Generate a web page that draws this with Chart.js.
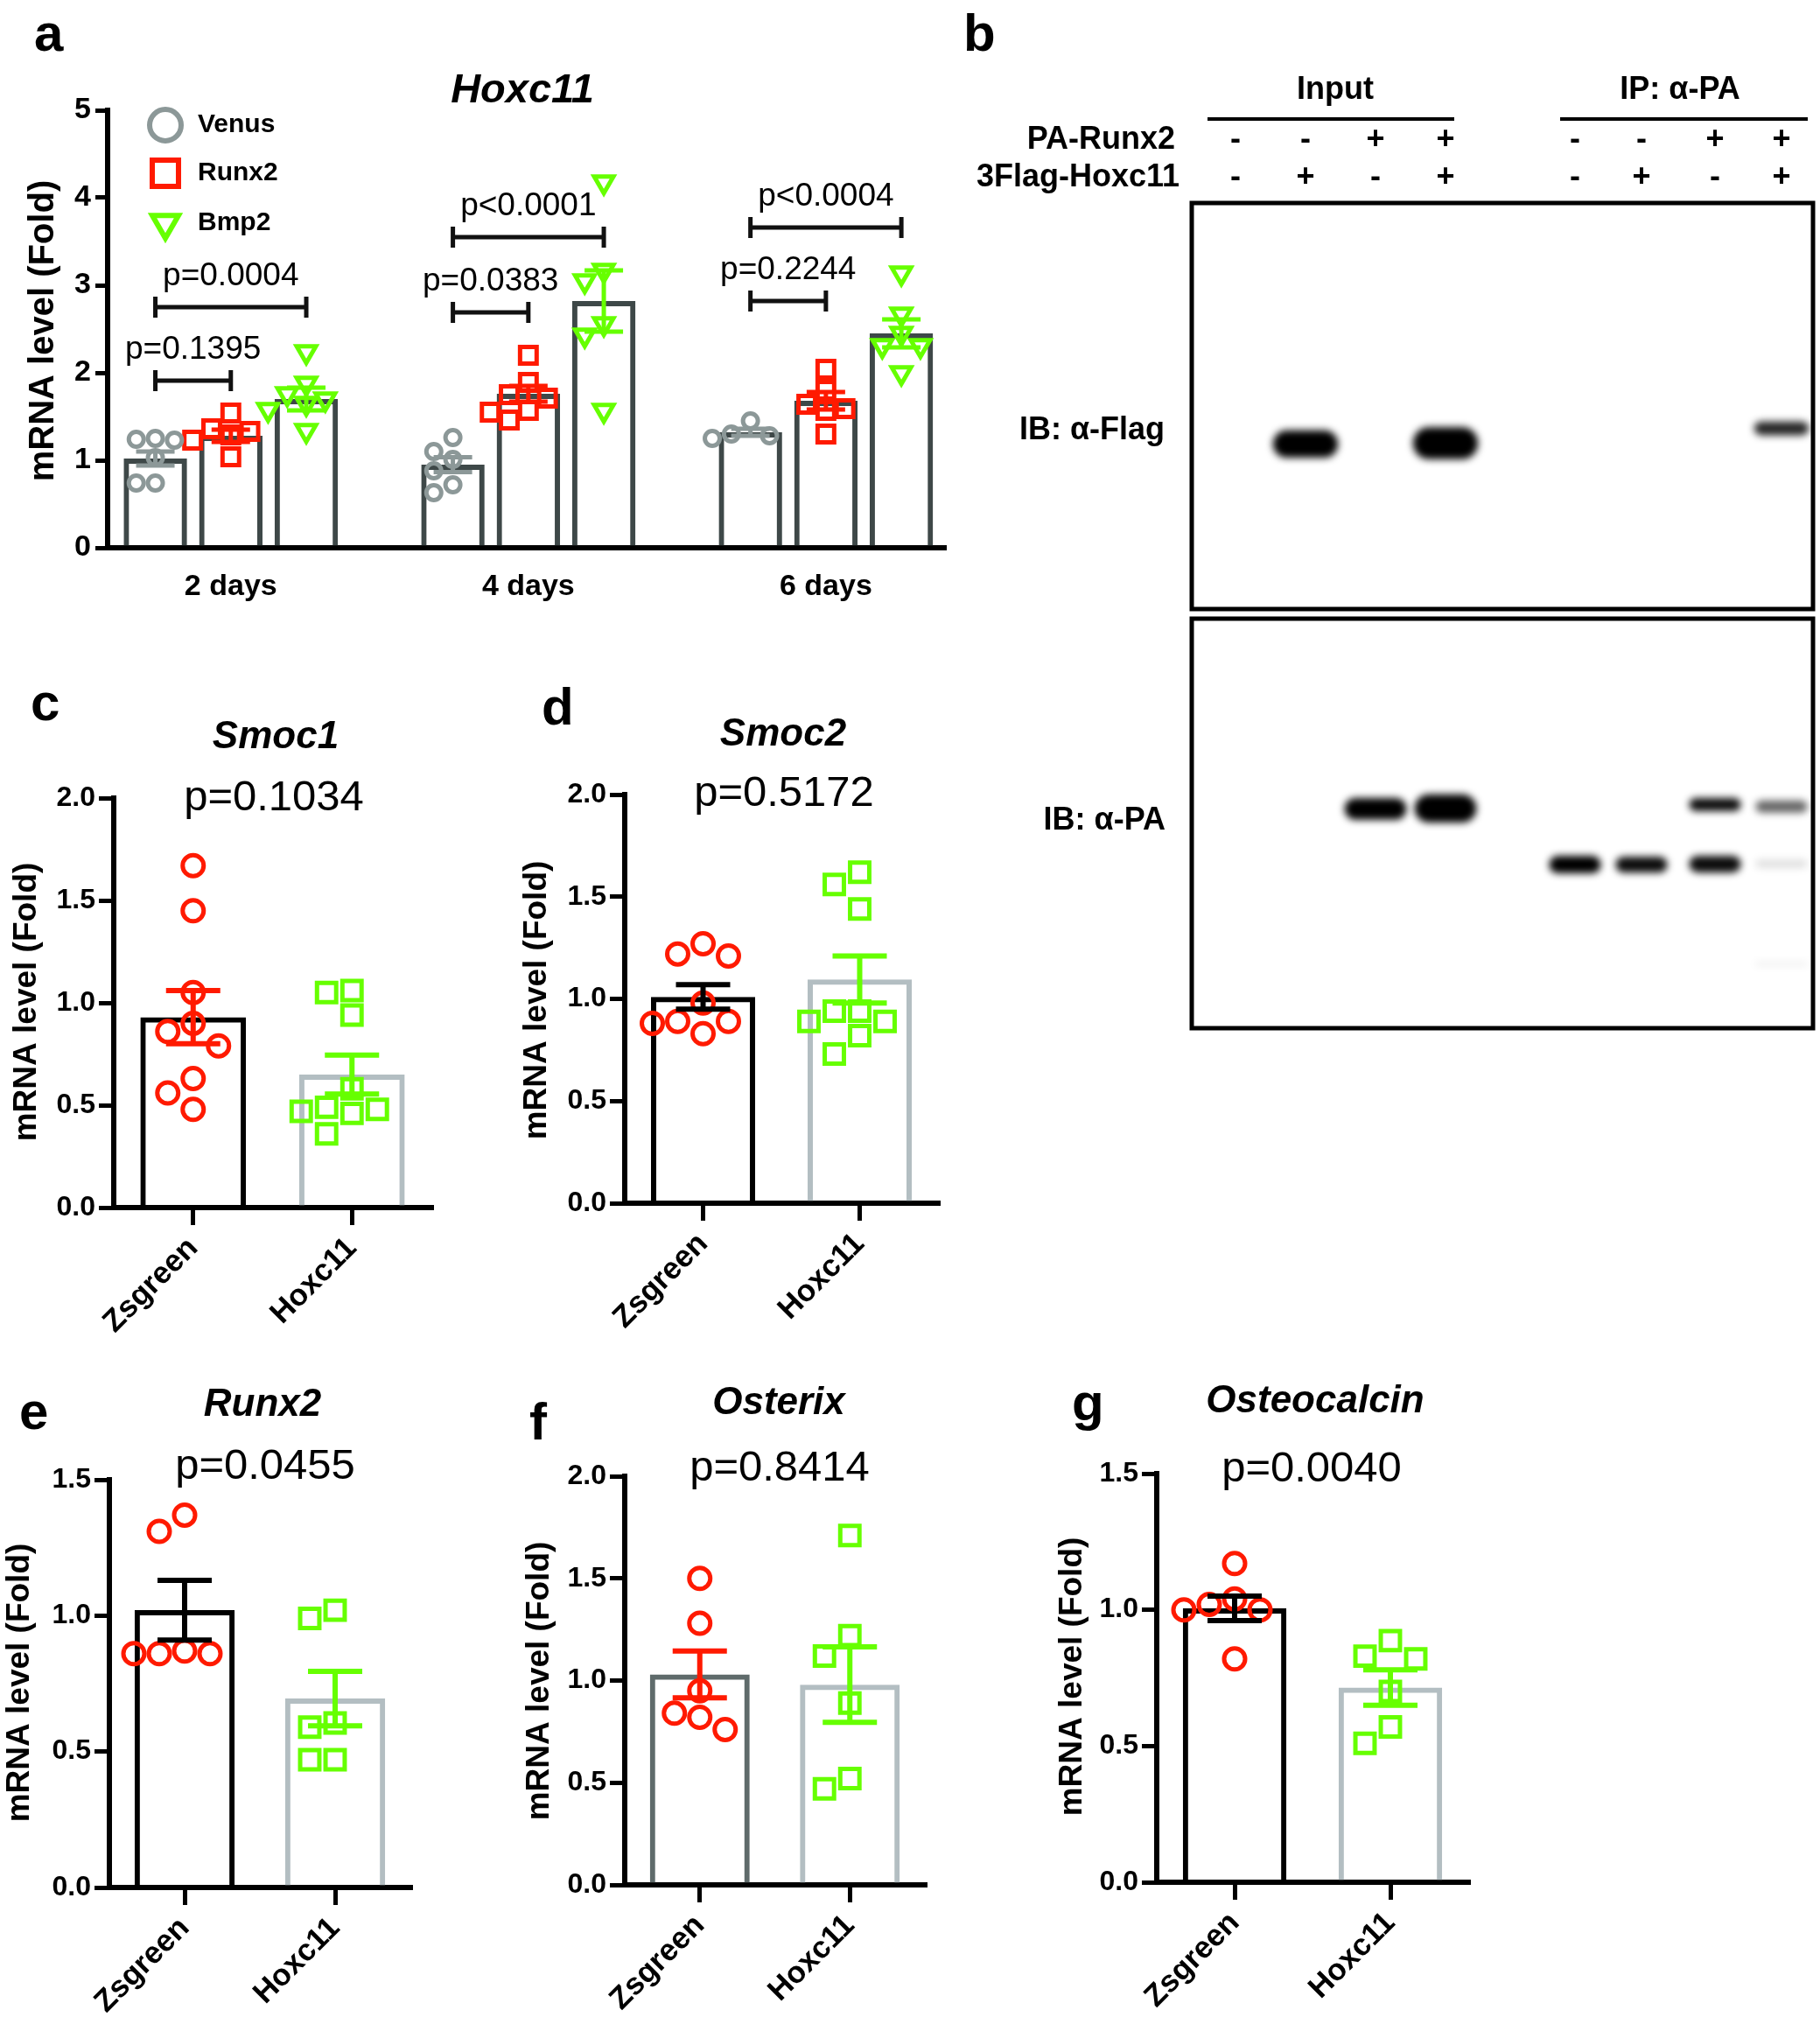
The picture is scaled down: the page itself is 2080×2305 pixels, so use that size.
<!DOCTYPE html>
<html>
<head>
<meta charset="utf-8">
<script src="https://cdn.jsdelivr.net/npm/chart.js@4.4.1/dist/chart.umd.min.js"></script>
<style>
  body { margin: 0; background: #fff; width: 2080px; height: 2305px; position: relative; overflow: hidden; }
  canvas { position: absolute; }
</style>
</head>
<body>
<script>
// ---- panel a: Hoxc11 time course ----
const days = ['2 days', '4 days', '6 days'];
const hoxSeries = ['Venus', 'Runx2', 'Bmp2'];
const venusMean = [1.02, 0.95, 1.32];
const venusSem = [0.08, 0.085, 0.04];
const runx2Mean = [1.28, 1.76, 1.68];
const runx2Sem = [0.07, 0.09, 0.10];
const bmp2Mean = [1.70, 2.82, 2.45];
const bmp2Sem = [0.13, 0.35, 0.16];
const venusPts = [[1.24, 1.25, 1.23, 1.03, 0.74, 0.74], [1.26, 1.10, 1.01, 0.88, 0.72, 0.63], [1.45, 1.30, 1.25, 1.28]];
const runx2Pts = [[1.54, 1.33, 1.36, 1.29, 1.23, 1.04], [2.20, 1.89, 1.71, 1.75, 1.57, 1.55, 1.46], [2.04, 1.80, 1.64, 1.59, 1.57, 1.30]];
const bmp2Pts = [[2.24, 1.88, 1.76, 1.70, 1.65, 1.58, 1.34], [4.18, 3.17, 3.05, 2.56, 2.43, 1.57], [3.14, 2.67, 2.45, 2.31, 2.31, 2.00]];
const bracketDay = [0, 0, 1, 1, 2, 2];
const bracketTo = [1, 2, 1, 2, 1, 2];
const bracketY = [1.91, 2.75, 2.69, 3.55, 2.82, 3.66];
const bracketText = ['p=0.1395', 'p=0.0004', 'p=0.0383', 'p<0.0001', 'p=0.2244', 'p<0.0004'];

// ---- panel b: co-IP blot ----
const lanePos = [1, 2, 3, 4, 5.85, 6.8, 7.85, 8.8];
const paRunx2 = ['-', '-', '+', '+', '-', '-', '+', '+'];
const flagHoxc11 = ['-', '+', '-', '+', '-', '+', '-', '+'];
const flagBandLane = [1, 3, 7];
const flagBandY = [[56.0, 62.7], [55.2, 63.1], [53.8, 57.2]];
const flagBandLevel = [1, 1, 0.85];
const paBandLane = [2, 3, 4, 5, 6, 6, 7, 7, 7];
const paBandY = [[43.8, 49.1], [42.9, 49.8], [57.9, 62.2], [58.1, 62.0], [43.8, 47.0], [57.9, 62.0], [44.4, 47.4], [58.8, 60.9], [84.0, 84.6]];
const paBandLevel = [1, 1, 1, 0.95, 0.95, 0.95, 0.6, 0.12, 0.1];

// ---- panels c-g: Zsgreen vs Hoxc11 ----
const groups = ['Zsgreen', 'Hoxc11'];
const smoc1Zs = [1.67, 1.45, 1.05, 0.90, 0.86, 0.79, 0.63, 0.56, 0.48];
const smoc1Hox = [1.06, 1.05, 0.94, 0.58, 0.49, 0.46, 0.47, 0.48, 0.36];
const smoc1Mean = [0.93, 0.65];
const smoc1Sem = [0.13, 0.095];
const smoc2Zs = [1.27, 1.22, 1.21, 0.98, 0.89, 0.89, 0.88, 0.83];
const smoc2Hox = [1.62, 1.56, 1.44, 0.94, 0.94, 0.89, 0.89, 0.82, 0.73];
const smoc2Mean = [1.01, 1.095];
const smoc2Sem = [0.06, 0.115];
const runx2Zs = [1.37, 1.31, 0.87, 0.86, 0.86, 0.86];
const runx2Hox = [1.02, 0.99, 0.605, 0.59, 0.47, 0.47];
const runx2GMean = [1.02, 0.695];
const runx2GSem = [0.11, 0.10];
const osxZs = [1.50, 1.28, 0.95, 0.84, 0.82, 0.76];
const osxHox = [1.71, 1.22, 1.12, 0.89, 0.52, 0.47];
const osxMean = [1.03, 0.98];
const osxSem = [0.115, 0.185];
const ocnZs = [1.17, 1.04, 1.02, 1.00, 1.00, 0.82];
const ocnHox = [0.887, 0.83, 0.82, 0.70, 0.57, 0.51];
const ocnMean = [1.005, 0.715];
const ocnSem = [0.045, 0.065];

const FONT = "'Liberation Sans', Arial, Helvetica, sans-serif";
const RED = '#ff1a00';
const GREEN = '#66ff00';
const GRAY_PT = '#8c9898';
const DARK_BAR = '#3e4848';
const LIGHT_BAR = '#b3bec2';
const CLEAR = 'rgba(0,0,0,0)';

Chart.defaults.font.family = FONT;
Chart.defaults.color = '#000';

function font(style, size) {
    return style + ' ' + size + 'px ' + FONT;
}

function makeCanvas(box) {
    const c = document.createElement('canvas');
    c.width = box.w;
    c.height = box.h;
    c.style.left = box.x + 'px';
    c.style.top = box.y + 'px';
    c.style.width = box.w + 'px';
    c.style.height = box.h + 'px';
    document.body.appendChild(c);
    return c;
}

// texts are given in page coordinates
function drawTexts(chart, items, origin) {
    const ctx = chart.ctx;
    items.forEach(function (it) {
        ctx.save();
        ctx.font = it.font;
        ctx.fillStyle = it.color || '#000';
        ctx.textAlign = it.align || 'center';
        ctx.textBaseline = it.base || 'alphabetic';
        ctx.translate(it.x - origin.x, it.y - origin.y);
        if (it.rot) ctx.rotate(it.rot * Math.PI / 180);
        ctx.fillText(it.t, 0, 0);
        ctx.restore();
    });
}

function errBar(ctx, x, yTop, yBot, cap, color, lw) {
    ctx.save();
    ctx.strokeStyle = color;
    ctx.lineWidth = lw;
    ctx.beginPath();
    ctx.moveTo(x, yTop);
    ctx.lineTo(x, yBot);
    ctx.moveTo(x - cap / 2, yTop);
    ctx.lineTo(x + cap / 2, yTop);
    ctx.moveTo(x - cap / 2, yBot);
    ctx.lineTo(x + cap / 2, yBot);
    ctx.stroke();
    ctx.restore();
}

// simple beeswarm: spread points sideways when they would overlap
function swarm(values, center, pxPerX, pxPerY, step, minDist) {
    const order = values.map(function (v, i) { return i; }).sort(function (a, b) { return values[b] - values[a]; });
    const placed = [];
    const xs = [];
    const slots = [0, -1, 1, -2, 2, -3, 3, -4, 4];
    order.forEach(function (i) {
        for (const s of slots) {
            const dx = s * step;
            const hit = placed.some(function (p) {
                return Math.hypot(dx - p.dx, (values[i] - p.v) * pxPerY) < minDist;
            });
            if (!hit) {
                placed.push({ dx: dx, v: values[i] });
                xs[i] = center + dx / pxPerX;
                break;
            }
        }
    });
    return values.map(function (v, i) { return { x: xs[i], y: v }; });
}

function fixedScales(box, area) {
    return {
        yFit: function (s) { s.width = area.l - box.x; s.paddingTop = 0; s.paddingBottom = 0; },
        xFit: function (s) { s.height = box.y + box.h - area.b; s.paddingLeft = 0; s.paddingRight = 0; }
    };
}

// ================= panel a =================
(function () {
    const box = { x: 0, y: 0, w: 1100, h: 720 };
    const area = { l: 123, t: 126, r: 1090, b: 626 };
    const SLOT = 0.2536;
    const yMax = 5;
    const pxX = (area.r - area.l) / (2.405 + 0.414);
    const pxY = (area.b - area.t) / yMax;
    const fit = fixedScales(box, area);
    const means = [venusMean, runx2Mean, bmp2Mean];
    const sems = [venusSem, runx2Sem, bmp2Sem];
    const pts = [venusPts, runx2Pts, bmp2Pts];
    const colors = [GRAY_PT, RED, GREEN];
    const styles = [
        { pointStyle: 'circle', pointRadius: 8.5, rotation: 0 },
        { pointStyle: 'rect', pointRadius: 13.4, rotation: 0 },
        { pointStyle: 'triangle', pointRadius: 12.7, rotation: 180 }
    ];

    const datasets = [];
    hoxSeries.forEach(function (name, k) {
        datasets.push({
            type: 'bar',
            label: name,
            data: days.map(function (d, i) { return { x: i + (k - 1) * SLOT, y: means[k][i] }; }),
            backgroundColor: CLEAR,
            borderColor: DARK_BAR,
            borderWidth: 6,
            borderSkipped: 'bottom',
            grouped: false,
            categoryPercentage: 1,
            barPercentage: 0.84,
            order: 2
        });
    });
    hoxSeries.forEach(function (name, k) {
        let data = [];
        days.forEach(function (d, i) {
            data = data.concat(swarm(pts[k][i], i + (k - 1) * SLOT, pxX, pxY, 22, 21));
        });
        datasets.push({
            type: 'scatter',
            label: name + ' points',
            data: data,
            pointStyle: styles[k].pointStyle,
            pointRadius: styles[k].pointRadius,
            pointRotation: styles[k].rotation,
            pointBorderWidth: 5,
            pointBorderColor: colors[k],
            pointBackgroundColor: CLEAR,
            order: 1
        });
    });

    const decor = {
        id: 'decorA',
        afterDatasetsDraw: function (chart) {
            const ctx = chart.ctx;
            const x = chart.scales.x, y = chart.scales.y;
            hoxSeries.forEach(function (name, k) {
                days.forEach(function (d, i) {
                    const cx = x.getPixelForValue(i + (k - 1) * SLOT);
                    errBar(ctx, cx, y.getPixelForValue(means[k][i] + sems[k][i]),
                        y.getPixelForValue(means[k][i] - sems[k][i]), 44, colors[k], 5);
                });
            });
            // significance brackets
            bracketDay.forEach(function (d, j) {
                const x1 = x.getPixelForValue(d - SLOT);
                const x2 = x.getPixelForValue(d + (bracketTo[j] - 1) * SLOT);
                const yy = y.getPixelForValue(bracketY[j]);
                ctx.save();
                ctx.strokeStyle = '#111';
                ctx.lineWidth = 5;
                ctx.beginPath();
                ctx.moveTo(x1, yy); ctx.lineTo(x2, yy);
                ctx.moveTo(x1, yy - 12); ctx.lineTo(x1, yy + 12);
                ctx.moveTo(x2, yy - 12); ctx.lineTo(x2, yy + 12);
                ctx.stroke();
                ctx.font = font('', 37);
                ctx.fillStyle = '#000';
                ctx.textAlign = 'center';
                ctx.textBaseline = 'middle';
                ctx.fillText(bracketText[j], (x1 + x2) / 2, yy - 35);
                ctx.restore();
            });
        },
        afterDraw: function (chart) {
            const ctx = chart.ctx;
            const legendY = [143, 198, 255];
            const legendR = [18, 21.2, 17.3];
            hoxSeries.forEach(function (name, k) {
                ctx.save();
                ctx.strokeStyle = colors[k];
                ctx.fillStyle = CLEAR;
                ctx.lineWidth = 6;
                Chart.helpers.drawPoint(ctx, {
                    pointStyle: styles[k].pointStyle,
                    rotation: styles[k].rotation,
                    radius: legendR[k],
                    borderWidth: 6
                }, 189 - box.x, legendY[k] - box.y);
                ctx.restore();
            });
            drawTexts(chart, [
                { t: 'a', x: 39, y: 58, font: font('bold', 60), align: 'left' },
                { t: 'Hoxc11', x: 597, y: 117, font: font('italic bold', 47) },
                { t: 'mRNA level (Fold)', x: 50, y: 378, rot: -90, base: 'middle', font: font('bold', 40) },
                { t: hoxSeries[0], x: 226, y: 143, align: 'left', base: 'middle', font: font('bold', 30) },
                { t: hoxSeries[1], x: 226, y: 198, align: 'left', base: 'middle', font: font('bold', 30) },
                { t: hoxSeries[2], x: 226, y: 255, align: 'left', base: 'middle', font: font('bold', 30) }
            ], box);
        }
    };

    new Chart(makeCanvas(box), {
        type: 'bar',
        data: { datasets: datasets },
        options: {
            responsive: false,
            animation: false,
            devicePixelRatio: 1,
            events: [],
            layout: { padding: { top: area.t - box.y, right: box.x + box.w - area.r, left: 0, bottom: 0 } },
            plugins: { legend: { display: false }, tooltip: { enabled: false } },
            scales: {
                x: {
                    type: 'linear',
                    min: -0.414,
                    max: 2.405,
                    offset: false,
                    afterBuildTicks: function (s) { s.ticks = days.map(function (d, i) { return { value: i }; }); },
                    afterFit: fit.xFit,
                    ticks: {
                        callback: function (v) { return days[v]; },
                        font: { size: 34, weight: 'bold' },
                        color: '#000',
                        padding: 16,
                        maxRotation: 0,
                        autoSkip: false
                    },
                    grid: { display: false, offset: false },
                    border: { display: true, width: 6, color: '#000' }
                },
                y: {
                    min: 0,
                    max: yMax,
                    afterFit: fit.yFit,
                    ticks: { stepSize: 1, font: { size: 34, weight: 'bold' }, color: '#000', padding: 5 },
                    grid: { display: true, drawOnChartArea: false, tickLength: 14, tickWidth: 5, lineWidth: 5, color: '#000' },
                    border: { display: true, width: 6, color: '#000' }
                }
            }
        },
        plugins: [decor]
    });
})();

// ================= panel b (blot) =================
function blotChart(box, area, bandLane, bandY, bandLevel, texts, withHeader) {
    const inputBands = [], ipBands = [];
    bandLane.forEach(function (lane, i) {
        const item = { x: lanePos[lane], y: bandY[i], level: bandLevel[i] };
        (lane < 4 ? inputBands : ipBands).push(item);
    });
    const bandColor = function (c) {
        const raw = c.raw;
        return raw ? 'rgba(0,0,0,' + raw.level + ')' : '#000';
    };
    const blot = {
        id: 'blot',
        beforeDatasetsDraw: function (chart) {
            chart.ctx.save();
            chart.ctx.filter = 'blur(4px)';
        },
        afterDatasetsDraw: function (chart) {
            chart.ctx.restore();
        },
        afterDraw: function (chart) {
            const ctx = chart.ctx;
            const a = chart.chartArea;
            ctx.save();
            ctx.strokeStyle = '#000';
            ctx.lineWidth = 5;
            ctx.strokeRect(a.left, a.top, a.right - a.left, a.bottom - a.top);
            ctx.restore();
            drawTexts(chart, texts, box);
            if (withHeader) {
                const x = chart.scales.x;
                ctx.save();
                ctx.font = font('bold', 36);
                ctx.fillStyle = '#000';
                ctx.textAlign = 'center';
                ctx.textBaseline = 'middle';
                lanePos.forEach(function (p, i) {
                    const px = x.getPixelForValue(p);
                    ctx.fillText(paRunx2[i], px, 160 - box.y);
                    ctx.fillText(flagHoxc11[i], px, 203 - box.y);
                });
                // group lines over Input and IP lanes
                ctx.strokeStyle = '#000';
                ctx.lineWidth = 4;
                ctx.beginPath();
                ctx.moveTo(x.getPixelForValue(lanePos[0]) - 32, 136 - box.y);
                ctx.lineTo(x.getPixelForValue(lanePos[3]) + 10, 136 - box.y);
                ctx.moveTo(x.getPixelForValue(lanePos[4]) - 17, 136 - box.y);
                ctx.lineTo(x.getPixelForValue(lanePos[7]) + 30, 136 - box.y);
                ctx.stroke();
                ctx.restore();
            }
        }
    };
    const band = {
        type: 'bar',
        backgroundColor: bandColor,
        borderWidth: 0,
        borderSkipped: false,
        borderRadius: 40,
        grouped: false,
        categoryPercentage: 1
    };
    new Chart(makeCanvas(box), {
        type: 'bar',
        data: {
            datasets: [
                Object.assign({ label: 'Input', data: inputBands, barPercentage: 0.93 }, band),
                Object.assign({ label: 'IP', data: ipBands, barPercentage: 0.78 }, band)
            ]
        },
        options: {
            responsive: false,
            animation: false,
            devicePixelRatio: 1,
            events: [],
            layout: {
                padding: {
                    left: area.l - box.x, top: area.t - box.y,
                    right: box.x + box.w - area.r, bottom: box.y + box.h - area.b
                }
            },
            plugins: { legend: { display: false }, tooltip: { enabled: false } },
            scales: {
                x: { type: 'linear', display: false, min: 0.375, max: 9.25, offset: false },
                y: { display: false, min: 0, max: 100, reverse: true }
            }
        },
        plugins: [blot]
    });
}

blotChart({ x: 1090, y: 0, w: 990, h: 700 }, { l: 1362, t: 232, r: 2072, b: 696 },
    flagBandLane, flagBandY, flagBandLevel, [
        { t: 'b', x: 1101, y: 58, font: font('bold', 60), align: 'left' },
        { t: 'Input', x: 1526, y: 103, base: 'middle', font: font('bold', 36) },
        { t: 'IP: α-PA', x: 1920, y: 103, base: 'middle', font: font('bold', 36) },
        { t: 'PA-Runx2', x: 1343, y: 160, align: 'right', base: 'middle', font: font('bold', 36) },
        { t: '3Flag-Hoxc11', x: 1348, y: 203, align: 'right', base: 'middle', font: font('bold', 36) },
        { t: 'IB: α-Flag', x: 1331, y: 492, align: 'right', base: 'middle', font: font('bold', 36) }
    ], true);

blotChart({ x: 1090, y: 700, w: 990, h: 500 }, { l: 1362, t: 707, r: 2072, b: 1175 },
    paBandLane, paBandY, paBandLevel, [
        { t: 'IB: α-PA', x: 1332, y: 938, align: 'right', base: 'middle', font: font('bold', 36) }
    ], false);

// ================= panels c-g =================
function twoGroupPanel(p) {
    const box = p.box, area = p.area;
    const pxX = (area.r - area.l) / 2;
    const pxY = (area.b - area.t) / p.yMax;
    const fit = fixedScales(box, area);
    const errColors = [p.zsErr, GREEN];

    const decor = {
        id: 'decor',
        afterDatasetsDraw: function (chart) {
            const x = chart.scales.x, y = chart.scales.y;
            p.mean.forEach(function (m, i) {
                errBar(chart.ctx, x.getPixelForValue(i), y.getPixelForValue(m + p.sem[i]),
                    y.getPixelForValue(m - p.sem[i]), 62, errColors[i], 6);
            });
        },
        afterDraw: function (chart) {
            drawTexts(chart, p.texts, box);
        }
    };

    new Chart(makeCanvas(box), {
        type: 'bar',
        data: {
            datasets: [
                {
                    type: 'bar',
                    label: 'mean',
                    data: p.mean.map(function (m, i) { return { x: i, y: m }; }),
                    backgroundColor: CLEAR,
                    borderColor: [p.zsBar, LIGHT_BAR],
                    borderWidth: 6,
                    borderSkipped: 'bottom',
                    grouped: false,
                    categoryPercentage: 1,
                    barPercentage: 0.665,
                    order: 2
                },
                {
                    type: 'scatter',
                    label: groups[0],
                    data: swarm(p.zs, 0, pxX, pxY, 29, 27),
                    pointStyle: 'circle',
                    pointRadius: 12,
                    pointBorderWidth: 5,
                    pointBorderColor: RED,
                    pointBackgroundColor: CLEAR,
                    order: 1
                },
                {
                    type: 'scatter',
                    label: groups[1],
                    data: swarm(p.hox, 1, pxX, pxY, 29, 27),
                    pointStyle: 'rect',
                    pointRadius: 15.5,
                    pointBorderWidth: 5,
                    pointBorderColor: GREEN,
                    pointBackgroundColor: CLEAR,
                    order: 1
                }
            ]
        },
        options: {
            responsive: false,
            animation: false,
            devicePixelRatio: 1,
            events: [],
            layout: { padding: { top: area.t - box.y, right: box.x + box.w - area.r, left: 0, bottom: 0 } },
            plugins: { legend: { display: false }, tooltip: { enabled: false } },
            scales: {
                x: {
                    type: 'linear',
                    min: -0.5,
                    max: 1.5,
                    offset: false,
                    afterBuildTicks: function (s) { s.ticks = groups.map(function (g, i) { return { value: i }; }); },
                    afterFit: fit.xFit,
                    ticks: {
                        callback: function (v) { return groups[v]; },
                        font: { size: 35, weight: 'bold' },
                        color: '#000',
                        padding: 6,
                        minRotation: 45,
                        maxRotation: 45,
                        autoSkip: false
                    },
                    grid: { display: true, offset: false, drawOnChartArea: false, tickLength: 20, tickWidth: 5, lineWidth: 5, color: '#000' },
                    border: { display: true, width: 6, color: '#000' }
                },
                y: {
                    min: 0,
                    max: p.yMax,
                    afterFit: fit.yFit,
                    ticks: {
                        stepSize: 0.5,
                        callback: function (v) { return v.toFixed(1); },
                        font: { size: 32, weight: 'bold' },
                        color: '#000',
                        padding: 4
                    },
                    grid: { display: true, drawOnChartArea: false, tickLength: 17, tickWidth: 5, lineWidth: 5, color: '#000' },
                    border: { display: true, width: 6, color: '#000' }
                }
            }
        },
        plugins: [decor]
    });
}

function panelTexts(letter, lx, ly, title, tx, ty, pval, px, py, ax, ay) {
    return [
        { t: letter, x: lx, y: ly, font: font('bold', 60), align: 'left' },
        { t: title, x: tx, y: ty, font: font('italic bold', 44) },
        { t: pval, x: px, y: py, font: font('', 49) },
        { t: 'mRNA level (Fold)', x: ax, y: ay, rot: -90, base: 'middle', font: font('bold', 37) }
    ];
}

twoGroupPanel({
    box: { x: 0, y: 760, w: 560, h: 790 }, area: { l: 130, t: 912, r: 493, b: 1380 }, yMax: 2,
    zs: smoc1Zs, hox: smoc1Hox, mean: smoc1Mean, sem: smoc1Sem, zsBar: '#000', zsErr: RED,
    texts: panelTexts('c', 35, 823, 'Smoc1', 315, 855, 'p=0.1034', 313, 926, 31, 1145)
});
twoGroupPanel({
    box: { x: 560, y: 760, w: 540, h: 790 }, area: { l: 714, t: 908, r: 1072, b: 1375 }, yMax: 2,
    zs: smoc2Zs, hox: smoc2Hox, mean: smoc2Mean, sem: smoc2Sem, zsBar: '#000', zsErr: '#000',
    texts: panelTexts('d', 619, 828, 'Smoc2', 895, 852, 'p=0.5172', 896, 921, 614, 1143)
});
twoGroupPanel({
    box: { x: 0, y: 1540, w: 580, h: 765 }, area: { l: 125, t: 1691, r: 469, b: 2157 }, yMax: 1.5,
    zs: runx2Zs, hox: runx2Hox, mean: runx2GMean, sem: runx2GSem, zsBar: '#000', zsErr: '#000',
    texts: panelTexts('e', 22, 1633, 'Runx2', 300, 1618, 'p=0.0455', 303, 1690, 23, 1923)
});
twoGroupPanel({
    box: { x: 580, y: 1540, w: 560, h: 765 }, area: { l: 714, t: 1687, r: 1057, b: 2154 }, yMax: 2,
    zs: osxZs, hox: osxHox, mean: osxMean, sem: osxSem, zsBar: '#5f6b6b', zsErr: RED,
    texts: panelTexts('f', 605, 1645, 'Osterix', 890, 1616, 'p=0.8414', 891, 1692, 617, 1921)
});
twoGroupPanel({
    box: { x: 1140, y: 1540, w: 600, h: 765 }, area: { l: 1322, t: 1684, r: 1678, b: 2151 }, yMax: 1.5,
    zs: ocnZs, hox: ocnHox, mean: ocnMean, sem: ocnSem, zsBar: '#000', zsErr: '#000',
    texts: panelTexts('g', 1225, 1623, 'Osteocalcin', 1503, 1614, 'p=0.0040', 1499, 1693, 1226, 1916)
});
</script>
</body>
</html>
